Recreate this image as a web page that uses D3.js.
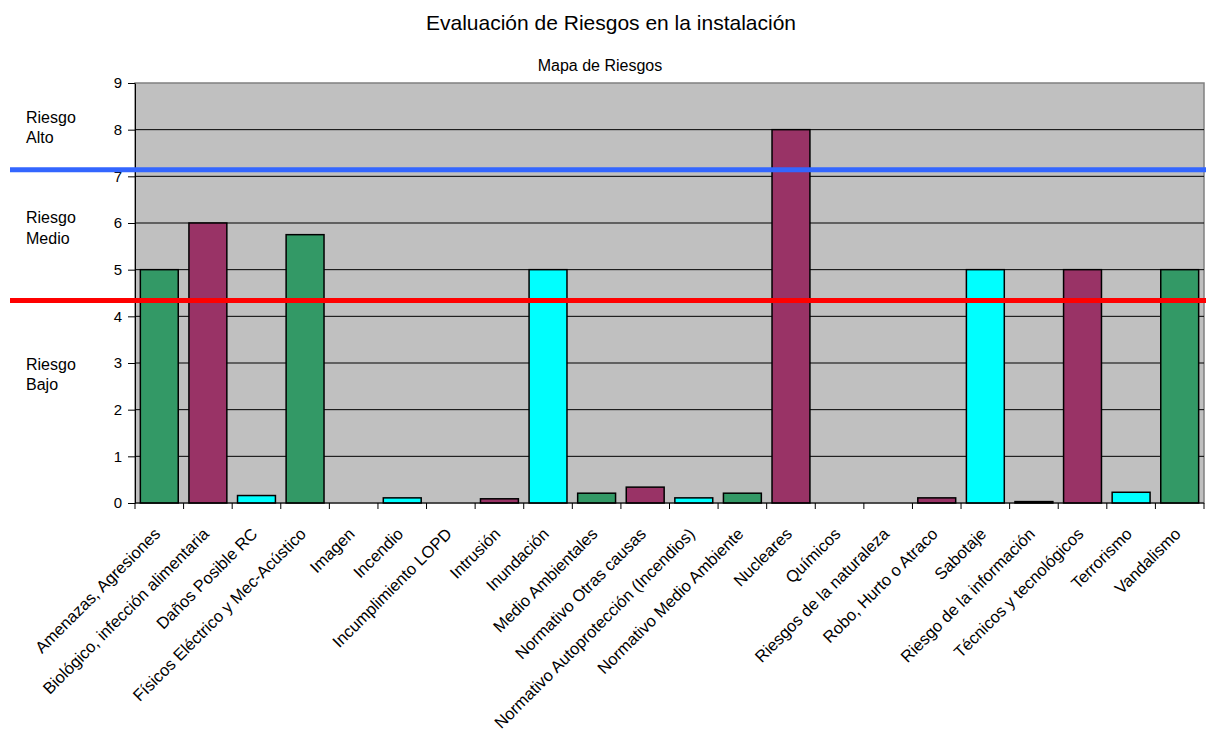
<!DOCTYPE html>
<html>
<head>
<meta charset="utf-8">
<script src="https://cdn.jsdelivr.net/npm/d3@7"></script>
<style>
  body { margin: 0; background: #fff; }
  svg text { font-family: "Liberation Sans", Arial, sans-serif; fill: #000; }
</style>
</head>
<body>
<div id="chart"></div>
<script>
// risk categories and their scores
var categories = [
    "Amenazas, Agresiones", "Biológico, infección alimentaria", "Daños Posible RC",
    "Físicos Eléctrico y Mec-Acústico", "Imagen", "Incendio", "Incumplimiento LOPD",
    "Intrusión", "Inundación", "Medio Ambientales", "Normativo Otras causas",
    "Normativo Autoprotección (Incendios)", "Normativo Medio Ambiente", "Nucleares",
    "Químicos", "Riesgos de la naturaleza", "Robo, Hurto o Atraco", "Sabotaje",
    "Riesgo de la información", "Técnicos y tecnológicos", "Terrorismo", "Vandalismo"
];
var values = [5, 6, 0.16, 5.75, 0, 0.11, 0, 0.09, 5, 0.21, 0.34, 0.11, 0.21, 8,
    0, 0, 0.11, 5, 0.03, 5, 0.23, 5];
var barColors = ["#339966", "#993366", "#00ffff"];
var yTicks = [0, 1, 2, 3, 4, 5, 6, 7, 8, 9];
// threshold lines: medio/alto and bajo/medio
var thresholds = [
    { value: 7.14, color: "#3366ff" },
    { value: 4.34, color: "#ff0000" }
];
var zoneLabels = [
    { lines: ["Riesgo", "Alto"], value: 8.15 },
    { lines: ["Riesgo", "Medio"], value: 6.0 },
    { lines: ["Riesgo", "Bajo"], value: 2.86 }
];

var W = 1206, H = 729;
var margin = { left: 135, right: 2, top: 83, bottom: 226 };
var w = W - margin.left - margin.right;
var h = H - margin.top - margin.bottom;

var svg = d3.select("#chart").append("svg")
    .attr("width", W).attr("height", H);

svg.append("text")
    .attr("x", 611).attr("y", 30)
    .attr("text-anchor", "middle")
    .style("font-size", "21px")
    .text("Evaluación de Riesgos en la instalación");

svg.append("text")
    .attr("x", 600).attr("y", 71)
    .attr("text-anchor", "middle")
    .style("font-size", "16px")
    .text("Mapa de Riesgos");

var g = svg.append("g").attr("transform", `translate(${margin.left},${margin.top})`);

var scaleX = d3.scaleBand().domain(categories).range([0, w]).paddingInner(0.22).paddingOuter(0.11);
var scaleXt = d3.scaleBand().domain(categories).range([0, w]);
var scaleY = d3.scaleLinear().domain([0, 9]).range([h, 0]);

// plot background
g.append("rect")
    .attr("width", w).attr("height", h)
    .attr("fill", "#c0c0c0")
    .attr("stroke", "#808080").attr("stroke-width", 1.5);

// gridlines
g.selectAll("line.grid")
    .data(yTicks.filter(d => d > 0 && d < 9))
    .enter().append("line")
    .attr("class", "grid")
    .attr("x1", 0).attr("x2", w)
    .attr("y1", d => scaleY(d)).attr("y2", d => scaleY(d))
    .attr("stroke", "#000").attr("stroke-width", 1);

// bars (zero values draw nothing)
var barData = categories.map((c, i) => ({ name: c, value: values[i], i: i })).filter(d => d.value > 0);
g.selectAll("rect.bar")
    .data(barData)
    .enter().append("rect")
    .attr("class", "bar")
    .attr("x", d => scaleX(d.name))
    .attr("width", scaleX.bandwidth())
    .attr("y", d => scaleY(d.value))
    .attr("height", d => h - scaleY(d.value))
    .attr("fill", d => barColors[d.i % 3])
    .attr("stroke", "#000").attr("stroke-width", 1.5);

// axes
var yAxis = d3.axisLeft(scaleY).tickValues(yTicks).tickSize(7).tickPadding(6).tickSizeOuter(0);
var yg = g.append("g").call(yAxis);
yg.selectAll("text").style("font-size", "15px");
yg.select(".domain").attr("stroke", "#000");

var xg = g.append("g").attr("transform", `translate(0,${h})`);
xg.append("line").attr("x1", 0).attr("x2", w).attr("stroke", "#000").attr("stroke-width", 1);
xg.selectAll("line.tick")
    .data(d3.range(categories.length + 1))
    .enter().append("line")
    .attr("class", "tick")
    .attr("x1", d => d * scaleXt.step()).attr("x2", d => d * scaleXt.step())
    .attr("y1", 0).attr("y2", 6)
    .attr("stroke", "#000");
xg.selectAll("text.lbl")
    .data(categories)
    .enter().append("text")
    .attr("class", "lbl")
    .attr("text-anchor", "end")
    .style("font-size", "16.5px")
    .attr("transform", d => `translate(${scaleXt(d) + scaleXt.bandwidth() / 2 + 2},32) rotate(-45)`)
    .text(d => d);

// threshold lines
svg.selectAll("line.thr")
    .data(thresholds)
    .enter().append("line")
    .attr("class", "thr")
    .attr("x1", 10).attr("x2", W)
    .attr("y1", d => margin.top + scaleY(d.value))
    .attr("y2", d => margin.top + scaleY(d.value))
    .attr("stroke", d => d.color).attr("stroke-width", 5);

// zone labels
var zl = svg.selectAll("text.zone")
    .data(zoneLabels)
    .enter().append("text")
    .attr("class", "zone")
    .style("font-size", "16px")
    .attr("y", d => margin.top + scaleY(d.value));
zl.selectAll("tspan")
    .data(d => d.lines)
    .enter().append("tspan")
    .attr("x", 26)
    .attr("dy", (d, i) => i === 0 ? 0 : 20.5)
    .text(d => d);
</script>
</body>
</html>
